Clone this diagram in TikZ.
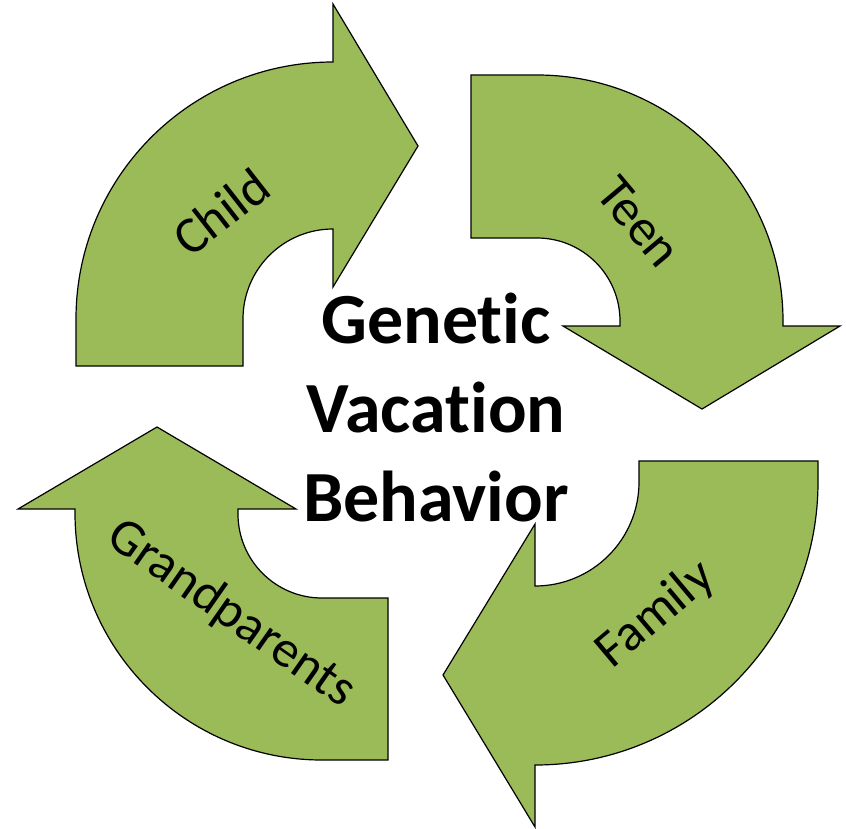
\documentclass[tikz,border=0pt]{standalone}
\usepackage{fontspec}
\setmainfont{Carlito}[Ligatures=NoCommon]
\definecolor{leaf}{HTML}{9BBB59}
\begin{document}
\begin{tikzpicture}[x=1pt,y=1pt,
  bentarrow/.style={fill=leaf,draw=black,line width=1.2pt,line join=miter},
  stage/.style={font=\fontsize{52}{60}\selectfont,inner sep=0pt},
  title/.style={font=\fontsize{72}{89}\selectfont\bfseries,align=center,inner sep=0pt}]
\useasboundingbox (0,0) rectangle (846,-828);

% Child: rises on the left, points right
\draw[bentarrow] (76,-366) -- (76,-319) arc[start angle=180,end angle=90,radius=257]
  -- (333,-4) -- (418,-146) -- (333,-287) -- (333,-229)
  arc[start angle=90,end angle=180,radius=90] -- (243,-366) -- cycle;

% Teen: runs right along the top, points down
\draw[bentarrow] (471,-75) -- (537,-75) arc[start angle=90,end angle=0,radius=246]
  -- (783,-326) -- (840,-326) -- (702,-409) -- (563,-326) -- (620,-326) -- (620,-321)
  arc[start angle=0,end angle=90,radius=83] -- (471,-238) -- cycle;

% Family: drops on the right, points left
\draw[bentarrow] (639,-461) -- (818,-461) -- (818,-482) arc[start angle=0,end angle=-90,radius=283]
  -- (535,-827) -- (443,-675) -- (535,-524) -- (535,-586)
  arc[start angle=-90,end angle=0,radius=104] -- cycle;

% Grandparents: runs left along the bottom, points up
\draw[bentarrow] (388,-760) -- (322,-760) arc[start angle=-90,end angle=-180,radius=247]
  -- (75,-509) -- (18,-509) -- (157,-427) -- (296,-509) -- (238,-509) -- (238,-514)
  arc[start angle=180,end angle=270,radius=84] -- (388,-598) -- cycle;

\node[stage,rotate=38] (child) at (221,-212) {Child};
\node[stage,rotate=-50] (teen) at (639,-222) {Teen};
\node[stage,rotate=40] (family) at (656,-615) {Family};
\node[stage,rotate=-35] (grand) at (231,-614) {Grandparents};

\node[title] (core) at (436,-407) {Genetic\\Vacation\\Behavior};
\end{tikzpicture}
\end{document}
